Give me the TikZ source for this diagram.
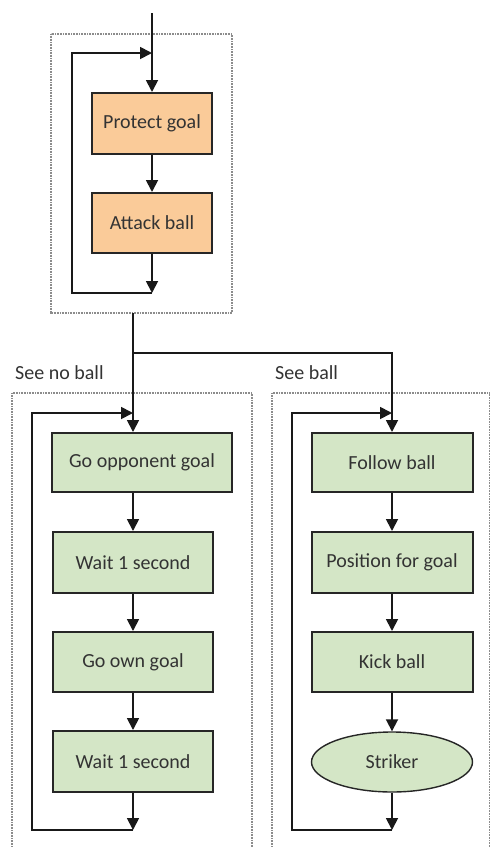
\documentclass[tikz,border=0pt]{standalone}
\usepackage{fontspec}
\setmainfont{Carlito}
\usetikzlibrary{arrows.meta,shapes.geometric}
\definecolor{peach}{RGB}{250,203,153}
\definecolor{leaf}{RGB}{212,230,198}
\begin{document}
\begin{tikzpicture}[x=1pt,y=-1pt,
  sbox/.style={draw=black!85, line width=2pt, inner sep=0pt, minimum height=60pt,
    font=\fontsize{20}{24}\selectfont, text=black!80},
  obox/.style={sbox, fill=peach, minimum width=120pt},
  gbox/.style={sbox, fill=leaf, minimum width=160pt},
  ebox/.style={sbox, ellipse, fill=leaf, minimum width=161pt, line width=1.4pt},
  arr/.style={line width=1.8pt, draw=black!90, -{Triangle[length=12pt,width=12pt]}},
  frame/.style={draw=gray!90, line width=1.5pt, dash pattern=on 0.8pt off 0.8pt},
  lbl/.style={anchor=west, inner sep=0pt, font=\fontsize{20}{24}\selectfont, text=black!80}]
\useasboundingbox (0,0) rectangle (491,847);

% frames
\draw[frame] (51,34) rectangle (232,313);
\draw[frame] (12,850) -- (12,393) -- (252,393) -- (252,850);
\draw[frame] (272,850) -- (272,393) -- (489.5,393) -- (489.5,850);

% labels
\node[lbl] (nolbl) at (15,373) {See no ball};
\node[lbl] (yeslbl) at (275,373) {See ball};

% top nodes
\node[obox, minimum height=61pt] (pg) at (152,123.5) {Protect goal};
\node[obox] (ab) at (152,223) {Attack ball};

% left nodes
\node[gbox, minimum width=180pt, minimum height=59pt] (gog) at (142,462.5) {Go opponent goal};
\node[gbox, minimum height=61pt] (w1) at (133,562.5) {Wait 1 second};
\node[gbox] (gown) at (133,662) {Go own goal};
\node[gbox, minimum height=61pt] (w2) at (133,761.5) {Wait 1 second};

% right nodes
\node[gbox, minimum width=161pt, minimum height=59pt] (fb) at (392,462.5) {Follow ball};
\node[gbox, minimum width=161pt, minimum height=61pt] (pos) at (392,562.5) {Position for goal};
\node[gbox, minimum width=161pt] (kick) at (392,662) {Kick ball};
\node[ebox] (strk) at (392,762) {Striker};

% coordinates
\coordinate (in) at (152,13);
\coordinate (ltop) at (152,53);
\coordinate (lbot) at (152,293);
\coordinate (out) at (133,313);
\coordinate (split) at (133,353);
\coordinate (lt) at (133,413);
\coordinate (lb) at (133,830);
\coordinate (rt) at (392,413);
\coordinate (rb) at (392,830);

% top connectors
\draw[arr] (in) -- (pg.north);
\draw[arr] (pg) -- (ab);
\draw[arr] (ab) -- (lbot);
\draw[arr] (lbot) -- ++(-80,0) |- (ltop);

% split
\draw[arr] (out) -- (gog.north -| out);
\draw[arr] (split) -| (fb.north);

% left connectors
\draw[arr] (gog.south -| w1) -- (w1.north);
\draw[arr] (w1) -- (gown);
\draw[arr] (gown) -- (w2);
\draw[arr] (w2) -- (lb);
\draw[arr] (lb) -- ++(-101,0) |- (lt);

% right connectors
\draw[arr] (fb) -- (pos);
\draw[arr] (pos) -- (kick);
\draw[arr] (kick) -- (strk);
\draw[arr] (strk) -- (rb);
\draw[arr] (rb) -- ++(-100,0) |- (rt);
\end{tikzpicture}
\end{document}
